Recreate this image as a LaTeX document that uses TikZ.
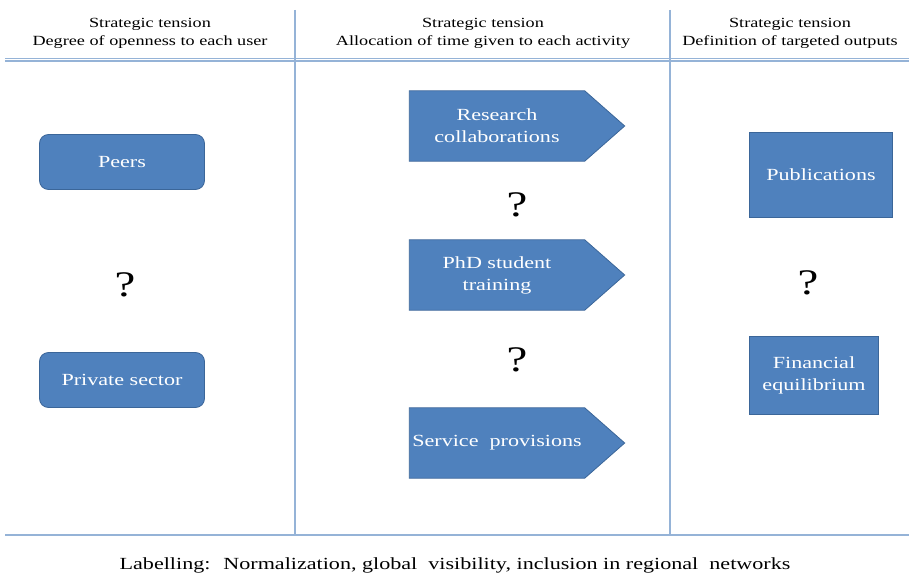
\documentclass[tikz,border=0pt]{standalone}
\usepackage{fontspec}
\setmainfont[FakeStretch=1.3]{Liberation Serif}
\usetikzlibrary{positioning,calc}

\definecolor{boxblue}{HTML}{4F81BD}
\definecolor{boxedge}{HTML}{3B6699}
\definecolor{gridblue}{HTML}{95B3D7}

\tikzset{
    grid line/.style={draw=gridblue, line width=1.2pt},
    head/.style={align=center, font=\fontsize{14}{18}\selectfont},
    choice/.style={fill=boxblue, draw=boxedge, line width=0.8pt, text=white,
        align=center, font=\fontsize{17}{22}\selectfont},
    userbox/.style={choice, rounded corners=9pt, minimum width=165pt, minimum height=55pt},
    outbox/.style={choice, minimum width=#1, inner sep=2pt},
    arrowbody/.style={minimum width=175pt, minimum height=70pt, inner sep=0pt},
    ask/.style={font=\fontsize{36}{36}\selectfont},
}

\begin{document}
\begin{tikzpicture}[x=1pt, y=1pt]
    \useasboundingbox (0,0) rectangle (909,579);

    % frame of the three columns
    \coordinate (tl) at (5,519);
    \coordinate (tr) at (909,519);
    \coordinate (bl) at (5,44);
    \coordinate (br) at (909,44);
    \draw[grid line, double=white, double distance=1pt] (tl) -- (tr);
    \draw[grid line] (bl) -- (br);
    \draw[grid line] (295,569) -- (295,44);
    \draw[grid line] (670,569) -- (670,44);

    % headers
    \node[head] (h1) at (150,546) {Strategic tension\\Degree of openness to each user};
    \node[head] (h2) at (483,546) {Strategic tension\\Allocation of time given to each activity};
    \node[head] (h3) at (790,546) {Strategic tension\\Definition of targeted outputs};

    % users
    \node[userbox] (peers) at (122,417) {Peers};
    \node[userbox] (private) at (122,199) {Private sector};
    \node[ask] (q1) at (125,294) {?};

    % activities
    \foreach \name/\y/\txt in {research/453/{Research\\collaborations},
                               phd/304/{PhD student\\training},
                               service/136/{Service~ provisions}}
    {
        \node[arrowbody] (\name) at (497,\y) {};
        \filldraw[fill=boxblue, draw=boxedge, line width=0.8pt]
            (\name.north west) -- (\name.north east)
            -- ($(\name.east)+(40,0)$) -- (\name.south east)
            -- (\name.south west) -- cycle;
        \node[choice, fill=none, draw=none] at (\name) {\txt};
    }
    \node[ask] (q2) at (517,374) {?};
    \node[ask] (q3) at (517,219) {?};

    % outputs
    \node[outbox=143pt, minimum height=85pt] (pubs) at (821,404) {Publications};
    \node[outbox=129pt, minimum height=78pt] (fin) at (814,204) {Financial\\equilibrium};
    \node[ask] (q4) at (808,296) {?};

    % labelling
    \node[font=\fontsize{17}{20}\selectfont] (label) at (455,14)
        {Labelling:~ Normalization, global~ visibility, inclusion in regional~ networks};
\end{tikzpicture}
\end{document}
